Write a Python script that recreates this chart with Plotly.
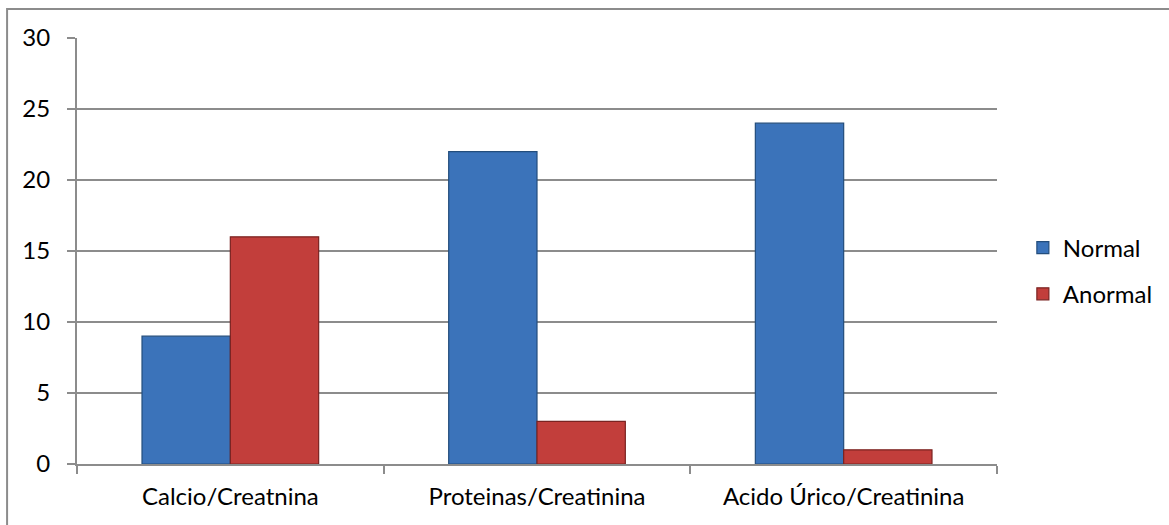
import plotly.graph_objects as go

categories = ["Calcio/Creatnina", "Proteinas/Creatinina", "Acido Úrico/Creatinina"]
normal = [9, 22, 24]
anormal = [16, 3, 1]
y_ticks = [0, 5, 10, 15, 20, 25, 30]

FONT = "Lato"
GRID = "#8c8c8c"

fig = go.Figure()
fig.add_trace(go.Bar(
    name="Normal", x=categories, y=normal,
    marker=dict(color="#3b73ba", line=dict(color="#234d7c", width=1.2)),
    legendgroup="n",
))
fig.add_trace(go.Bar(
    name="Anormal", x=categories, y=anormal,
    marker=dict(color="#c23e3b", line=dict(color="#7a2321", width=1.2)),
    legendgroup="a",
))

fig.update_layout(
    width=1169, height=525,
    margin=dict(l=77, r=171, t=38, b=61),
    paper_bgcolor="white", plot_bgcolor="white",
    barmode="group", bargap=0.424, bargroupgap=0,
    font=dict(family=FONT, size=24, color="#000000"),
    legend=dict(
        x=1.027, xanchor="left", y=0.453, yanchor="middle",
        font=dict(family=FONT, size=24, color="#000000"),
        tracegroupgap=12, itemwidth=30,
    ),
    xaxis=dict(
        showline=True, linecolor=GRID, linewidth=2,
        ticks="outside", tickson="boundaries", ticklen=8, tickcolor=GRID, tickwidth=2,
        showgrid=False, ticklabelstandoff=10,
    ),
    yaxis=dict(
        range=[0, 30], tickvals=y_ticks,
        showline=True, linecolor=GRID, linewidth=2,
        ticks="outside", ticklen=8, tickcolor=GRID, tickwidth=2,
        showgrid=True, gridcolor=GRID, gridwidth=2,
        zeroline=False, ticklabelstandoff=12,
    ),
    shapes=[dict(
        type="rect", xref="paper", yref="paper",
        x0=-70 / 921, x1=1.3, y0=-0.3, y1=1 + 29 / 426,
        line=dict(color="#8c8c8c", width=2), fillcolor="rgba(0,0,0,0)",
        layer="below",
    )],
)

fig.write_html("out.html")
